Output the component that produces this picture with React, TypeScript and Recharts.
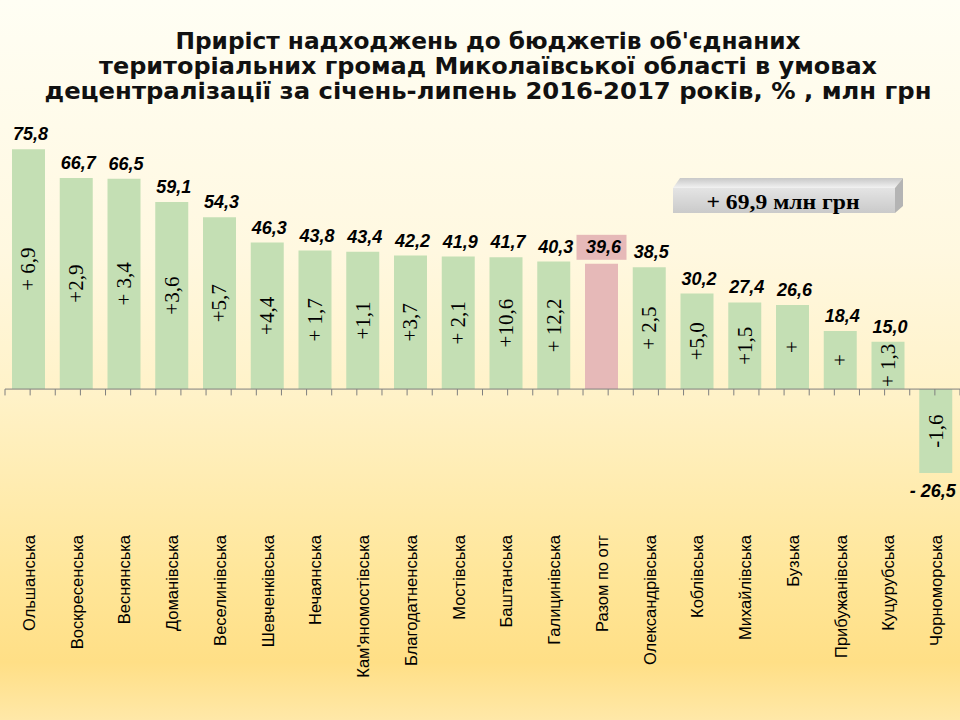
import React from 'react';
import { BarChart, Bar, XAxis, YAxis, Cell, LabelList, ReferenceLine } from 'recharts';

const categories = [
  'Ольшанська', 'Воскресенська', 'Веснянська', 'Доманівська', 'Веселинівська',
  'Шевченківська', 'Нечаянська', "Кам'яномостівська", 'Благодатненська', 'Мостівська',
  'Баштанська', 'Галицинівська', 'Разом по отг', 'Олександрівська', 'Коблівська',
  'Михайлівська', 'Бузька', 'Прибужанівська', 'Куцурубська', 'Чорноморська',
];
const growthPct = [75.8, 66.7, 66.5, 59.1, 54.3, 46.3, 43.8, 43.4, 42.2, 41.9, 41.7, 40.3, 39.6, 38.5, 30.2, 27.4, 26.6, 18.4, 15.0, -26.5];
const growthMln = ['+ 6,9', '+2,9', '+ 3,4', '+3,6', '+5,7', '+4,4', '+ 1,7', '+1,1', '+3,7', '+ 2,1', '+10,6', '+ 12,2', '', '+ 2,5', '+5,0', '+1,5', '+', '+', '+ 1,3', '-1,6'];
const totalIndex = 12;
const titleLines = [
  "Приріст надходжень до бюджетів об'єднаних",
  'територіальних громад Миколаївської області в умовах',
  'децентралізації за січень-липень 2016-2017 років, % , млн грн',
];
const totalNote = '+ 69,9 млн грн';

const GREEN = '#C4DFB4';
const PINK = '#E6B9B8';

const data = categories.map((name, i) => ({ name, value: growthPct[i], inner: growthMln[i] }));
const halfTicks = Array.from({ length: categories.length * 2 + 1 }, (_, i) => i / 2);

const fmt = (v: number) => (v < 0 ? '- ' + Math.abs(v).toFixed(1) : v.toFixed(1)).replace('.', ',');

const ValueLabel = (props: any) => {
  const { x, y, width, height, index } = props;
  const v = growthPct[index];
  const cx = x + width / 2;
  const top = Math.min(y, y + height);
  const bottom = Math.max(y, y + height);
  const style = { fontFamily: 'Liberation Sans, Arial, sans-serif', fontWeight: 700, fontStyle: 'italic', fontSize: 18 } as any;
  if (v < 0) {
    return (
      <text x={cx - 3} y={bottom + 24} textAnchor="middle" fill="#000" style={style}>{fmt(v)}</text>
    );
  }
  const isTotal = index === totalIndex;
  const by = top - (isTotal ? 11 : 9);
  return (
    <g>
      {isTotal && <rect x={cx - 25} y={by - 18} width={50} height={25} fill={PINK} />}
      <text x={cx + 2} y={by} textAnchor="middle" fill="#000" style={style}>{fmt(v)}</text>
    </g>
  );
};

const InnerLabel = (props: any) => {
  const { x, y, width, height, index } = props;
  const t = growthMln[index];
  if (!t) return null;
  const cx = x + width / 2;
  const cy = y + height / 2;
  return (
    <text
      x={cx}
      y={cy}
      transform={`rotate(-90, ${cx}, ${cy})`}
      textAnchor="middle"
      dominantBaseline="central"
      fill="#000"
      style={{ fontFamily: 'Liberation Serif, Times New Roman, serif', fontSize: 21 }}
    >
      {t}
    </text>
  );
};

const CatTick = (props: any) => {
  const { x, y, payload } = props;
  const ay = y + 43;
  return (
    <text
      x={x}
      y={ay}
      transform={`rotate(-90, ${x}, ${ay})`}
      textAnchor="end"
      dominantBaseline="central"
      fill="#000"
      style={{ fontFamily: 'Liberation Sans, Arial, sans-serif', fontSize: 16.5 }}
    >
      {payload.value}
    </text>
  );
};

export default function App() {
  return (
    <div
      style={{
        position: 'absolute',
        left: 0,
        top: 0,
        width: 960,
        height: 720,
        background: 'linear-gradient(to bottom, #FFFEF4 0%, #FFF8E0 35%, #FFF2C8 55%, #FFE699 80%, #FFDF86 92%, #FFE8A8 100%)',
        overflow: 'hidden',
      }}
    >
      <div style={{ position: 'absolute', left: 0, top: 0 }}>
        <BarChart width={960} height={720} data={data} margin={{ top: 136, right: 0, bottom: 0, left: 5 }}>
          <XAxis
            dataKey="name"
            interval={0}
            axisLine={false}
            tickLine={false}
            height={236}
            tick={<CatTick />}
          />
          <XAxis xAxisId="n" type="number" domain={[0, categories.length]} hide allowDataOverflow />
          <YAxis hide domain={[-30, 80]} tickCount={12} />
          <ReferenceLine y={0} stroke="#7F7F7F" strokeWidth={1} ifOverflow="extendDomain" />
          {halfTicks.map((t) => (
            <ReferenceLine
              key={t}
              xAxisId="n"
              segment={[{ x: t, y: 0 }, { x: t, y: -2 }]}
              stroke="#7F7F7F"
              strokeWidth={1}
            />
          ))}
          <Bar dataKey="value" barSize={33} isAnimationActive={false}>
            {data.map((d, i) => (
              <Cell key={d.name} fill={i === totalIndex ? PINK : GREEN} />
            ))}
            <LabelList dataKey="value" content={<ValueLabel />} />
            <LabelList dataKey="inner" content={<InnerLabel />} />
          </Bar>
        </BarChart>
      </div>
      <svg width={960} height={720} style={{ position: 'absolute', left: 0, top: 0, pointerEvents: 'none' }}>
        <defs>
          <linearGradient id="boxFront" x1="0" y1="0" x2="0" y2="1">
            <stop offset="0%" stopColor="#E4E4E4" />
            <stop offset="100%" stopColor="#CACACA" />
          </linearGradient>
          <linearGradient id="boxTop" x1="0" y1="0" x2="0" y2="1">
            <stop offset="0%" stopColor="#C8C8C8" />
            <stop offset="100%" stopColor="#F2F2F2" />
          </linearGradient>
        </defs>
        {titleLines.map((line, i) => (
          <text
            key={i}
            x={488}
            y={49 + i * 25}
            textAnchor="middle"
            textLength={[625, 778, 887][i]}
            lengthAdjust="spacingAndGlyphs"
            fill="#111"
            style={{ fontFamily: 'DejaVu Sans, Verdana, sans-serif', fontWeight: 700, fontSize: 23 }}
          >
            {line}
          </text>
        ))}
        <polygon points="673,188 680,178 903,178 895,188" fill="url(#boxTop)" />
        <polygon points="895,188 903,178 903,206 895,213" fill="#B4B4B4" />
        <rect x={673} y={188} width={222} height={25} fill="url(#boxFront)" />
        <text
          x={783}
          y={209}
          textAnchor="middle"
          textLength={153}
          lengthAdjust="spacingAndGlyphs"
          fill="#000"
          style={{ fontFamily: 'Liberation Serif, Times New Roman, serif', fontWeight: 700, fontSize: 21 }}
        >
          {totalNote}
        </text>
      </svg>
    </div>
  );
}
